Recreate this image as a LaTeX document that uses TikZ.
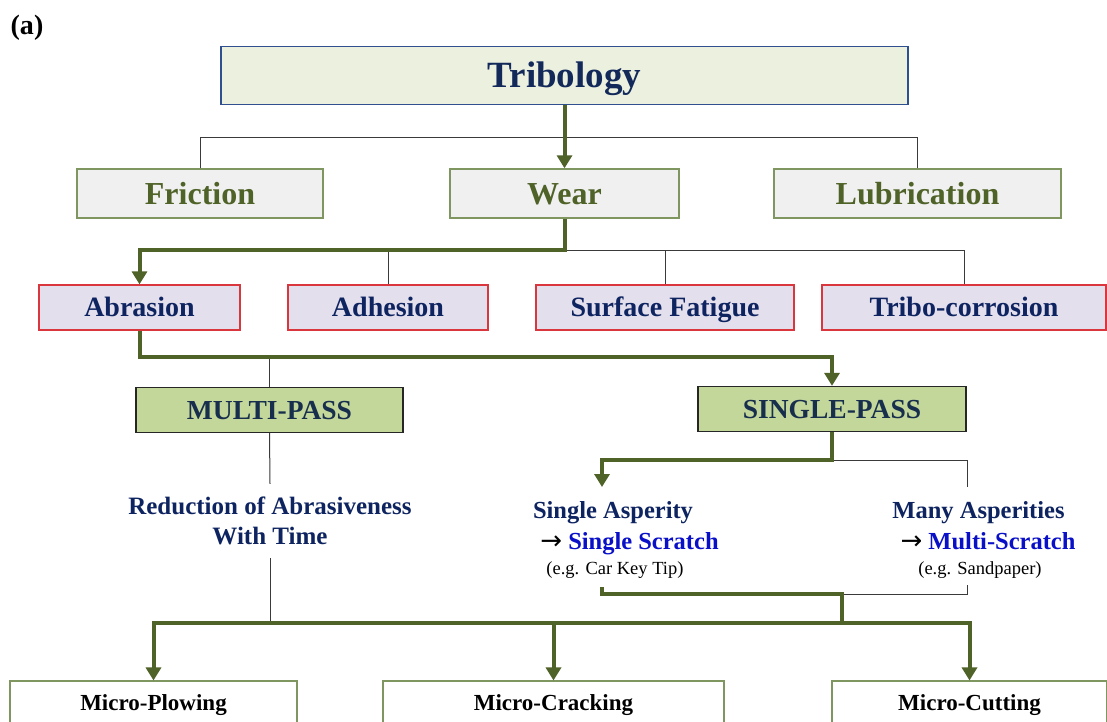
\documentclass[tikz,border=0pt]{standalone}
\usepackage{fontspec}
\setmainfont{Liberation Serif}
\newfontfamily\arrowfont{DejaVu Sans}
\usetikzlibrary{arrows.meta}
\definecolor{tribfill}{HTML}{EBF0DF}
\definecolor{tribdraw}{HTML}{2F4F8F}
\definecolor{tribtext}{HTML}{12295A}
\definecolor{oliveg}{HTML}{4F6228}
\definecolor{lvlonedraw}{HTML}{7F9660}
\definecolor{lvlonefill}{HTML}{F0F0F0}
\definecolor{lavfill}{HTML}{E4DFEC}
\definecolor{redline}{HTML}{D9373D}
\definecolor{navytext}{HTML}{0E2461}
\definecolor{passfill}{HTML}{C4D79B}
\definecolor{passtext}{HTML}{172F4D}
\definecolor{scratch}{HTML}{0A10C8}
\definecolor{thingray}{HTML}{3A3A3A}
\newcommand{\rarr}{{\arrowfont\mdseries\color{black}\fontsize{26}{28}\selectfont →}}
\tikzset{
  capc/.style={text height=#1, text depth=0pt},
  topbox/.style={capc=24.3pt, draw=tribdraw, fill=tribfill, line width=1.4pt, text=tribtext, inner sep=0pt,
    font=\fontsize{37}{40}\selectfont\bfseries},
  lvlone/.style={capc=21pt, draw=lvlonedraw, fill=lvlonefill, line width=1.4pt, text=oliveg, inner sep=0pt,
    minimum height=49pt, font=\fontsize{32}{36}\selectfont\bfseries},
  lvltwo/.style={capc=18.4pt, draw=redline, fill=lavfill, line width=1.3pt, text=navytext, inner sep=0pt,
    minimum height=45pt, font=\fontsize{28}{32}\selectfont\bfseries},
  passbox/.style={capc=18pt, draw=black!85, fill=passfill, line width=1.3pt, text=passtext, inner sep=0pt,
    minimum height=45pt, font=\fontsize{27.5}{30}\selectfont\bfseries},
  leafbox/.style={capc=15.1pt, draw=lvlonedraw, fill=white, line width=1.1pt, text=black, inner sep=0pt,
    minimum height=44pt, font=\fontsize{23}{26}\selectfont\bfseries},
  boldtxt/.style={capc=16pt, text=navytext, inner sep=0pt, font=\fontsize{24.5}{30}\selectfont\bfseries},
  smalltxt/.style={capc=12.1pt, text=black, inner sep=0pt, font=\fontsize{18.5}{22}\selectfont},
  thinln/.style={draw=thingray, line width=1pt},
  thickln/.style={draw=oliveg, line width=4pt},
  arr/.style={thickln, -{Triangle[width=15pt,length=13pt]}},
}
\begin{document}
\begin{tikzpicture}[x=1pt,y=-1pt]
\clip (0,0) rectangle (1107,721);
\fill[white] (0,0) rectangle (1107,721);

\node[capc=18.5pt, inner sep=0pt, font=\fontsize{28}{30}\selectfont\bfseries] (lab) at (27,25) {(a)};

\node[topbox, minimum width=687pt, minimum height=58pt] (tri) at (564.5,75.5) {Tribology};

\node[lvlone, minimum width=246pt] (fri) at (200,193.5) {Friction};
\node[lvlone, minimum width=229pt] (wear) at (564.5,193.5) {Wear};
\node[lvlone, minimum width=287pt] (lub) at (917.5,193.5) {Lubrication};

\node[lvltwo, minimum width=201pt] (abr) at (139.5,307.5) {Abrasion};
\node[lvltwo, minimum width=200pt] (adh) at (388,307.5) {Adhesion};
\node[lvltwo, minimum width=258pt] (sf) at (665,307.5) {Surface Fatigue};
\node[lvltwo, minimum width=284pt] (tc) at (964,307.5) {Tribo-corrosion};

\node[passbox, minimum width=267pt] (mp) at (269.5,410) {MULTI-PASS};
\node[passbox, minimum width=268pt] (sp) at (832,409) {SINGLE-PASS};

\node[text=navytext, inner sep=0pt, align=center, minimum height=74pt,
  font=\fontsize{25}{30}\selectfont\bfseries] (red) at (270,521)
  {Reduction of Abrasiveness\\With Time};

\node[boldtxt] (sa1) at (613,510.5) {Single Asperity};
\node[boldtxt] (sa2) at (629.5,541) {\rarr\ \textcolor{scratch}{Single Scratch}};
\node[smalltxt] (sa3) at (615,568) {(e.g. Car Key Tip)};
\node[boldtxt] (ma1) at (978.5,510.5) {Many Asperities};
\node[boldtxt] (ma2) at (988,541) {\rarr\ \textcolor{scratch}{Multi-Scratch}};
\node[smalltxt] (ma3) at (980,568) {(e.g. Sandpaper)};

\node[leafbox, minimum width=287pt] (mpl) at (153.5,703) {Micro-Plowing};
\node[leafbox, minimum width=341pt] (mcr) at (553.5,703) {Micro-Cracking};
\node[leafbox, minimum width=275pt] (mcu) at (969.5,703) {Micro-Cutting};

% level 0 -> level 1
\coordinate (h0) at (0,137);
\draw[thinln] (fri.north) -- (fri.north |- h0) -- (lub.north |- h0) -- (lub.north);
\draw[arr] (tri.south) -- (wear.north);

% wear -> level 2
\coordinate (j1) at (564.5,250);
\draw[thinln] (j1) -- (j1 -| tc.north) -- (tc.north);
\draw[thinln] (j1 -| adh.north) -- (adh.north);
\draw[thinln] (j1 -| sf.north) -- (sf.north);
\draw[arr] (wear.south) -- (j1) -- (j1 -| abr.north) -- (abr.north);

% abrasion -> passes
\coordinate (j2) at (139.5,357);
\draw[thinln] (j2 -| mp.north) -- (mp.north);
\draw[arr] (abr.south) -- (j2) -- (j2 -| sp.north) -- (sp.north);

% multi-pass branch
\coordinate (hb) at (0,623);
\draw[thinln] (mp.south) -- (red.north);
\draw[thinln] (red.south) -- (red.south |- hb);

% single-pass branch
\coordinate (j3) at (832,460);
\coordinate (saTop) at (602,487);
\coordinate (maTop) at (967,487);
\draw[thinln] (j3) -- (j3 -| maTop) -- (maTop);
\draw[arr] (sp.south) -- (j3) -- (j3 -| saTop) -- (saTop);

\coordinate (saBot) at (602,587);
\coordinate (maBot) at (967,585);
\coordinate (j4) at (842,594);
\draw[thinln] (maBot) -- (maBot |- j4) -- (j4);
\draw[thickln] (saBot) -- (saBot |- j4) -- (j4) -- (j4 |- hb);

% distribution bar
\draw[arr] (hb -| mcr.north) -- (hb -| mpl.north) -- (mpl.north);
\draw[arr] (hb -| mcr.north) -- (hb -| mcu.north) -- (mcu.north);
\draw[arr] (hb -| mcr.north) -- (mcr.north);
\end{tikzpicture}
\end{document}
